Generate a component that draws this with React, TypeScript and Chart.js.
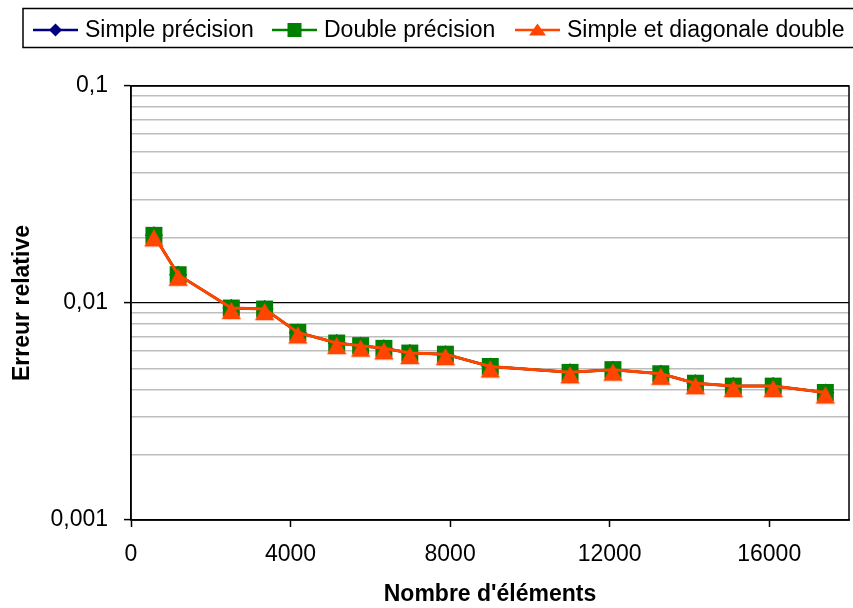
import React, { useEffect, useRef } from 'react';
import { Chart, registerables } from 'chart.js';

Chart.register(...registerables);

// ---- data ----
const nbElements = [575, 1182, 2515, 3350, 4182, 5157, 5757, 6340, 6990, 7882, 9007, 11007, 12082, 13282, 14150, 15100, 16100, 17407];
const errSimple = [0.0205, 0.0135, 0.00948, 0.00938, 0.00732, 0.00654, 0.00636, 0.00618, 0.00588, 0.00581, 0.0051, 0.00479, 0.00493, 0.00472, 0.00427, 0.00414, 0.00414, 0.00387];
const errDouble = [0.0205, 0.0135, 0.00948, 0.00938, 0.00732, 0.00654, 0.00636, 0.00618, 0.00588, 0.00581, 0.0051, 0.00479, 0.00493, 0.00472, 0.00427, 0.00414, 0.00414, 0.00387];
const errMixed = [0.0205, 0.0135, 0.00948, 0.00938, 0.00732, 0.00654, 0.00636, 0.00618, 0.00588, 0.00581, 0.0051, 0.00479, 0.00493, 0.00472, 0.00427, 0.00414, 0.00414, 0.00387];
const seriesNames = ['Simple précision', 'Double précision', 'Simple et diagonale double'];
const seriesColors = ['#000080', '#008000', '#FF4500'];
const xTickValues = [0, 4000, 8000, 12000, 16000];
const yMajorValues = [0.001, 0.01, 0.1];
const yTickLabels = ['0,001', '0,01', '0,1'];
const xTitle = "Nombre d'éléments";
const yTitle = 'Erreur relative';

const FONT = '"Liberation Sans", Arial, sans-serif';

function isMajor(v: number) {
  const l = Math.log10(v);
  return Math.abs(l - Math.round(l)) < 1e-9;
}

function makeTriangle(color: string) {
  const c = document.createElement('canvas');
  c.width = 24;
  c.height = 34;
  const g = c.getContext('2d')!;
  g.fillStyle = color;
  const cx = 12;
  const cy = 17 + 2.5;
  const w = 19.5;
  const h = 17.5;
  g.beginPath();
  g.moveTo(cx, cy - h / 2);
  g.lineTo(cx + w / 2, cy + h / 2);
  g.lineTo(cx - w / 2, cy + h / 2);
  g.closePath();
  g.fill();
  return c;
}

const legendX = [33, 272, 515];

const framePlugin = {
  id: 'frameAndLegend',
  beforeDatasetsDraw(chart: any) {
    const { ctx, chartArea } = chart;
    ctx.save();
    ctx.strokeStyle = '#000';
    ctx.lineWidth = 1.5;
    ctx.strokeRect(chartArea.left, chartArea.top, chartArea.right - chartArea.left, chartArea.bottom - chartArea.top);
    ctx.restore();
  },
  afterDraw(chart: any) {
    const ctx = chart.ctx;
    ctx.save();
    ctx.strokeStyle = '#000';
    ctx.lineWidth = 1.5;
    ctx.strokeRect(23, 8.5, 840, 39);
    const y = 30;
    seriesNames.forEach((name, i) => {
      const x0 = legendX[i];
      const col = seriesColors[i];
      ctx.strokeStyle = col;
      ctx.lineWidth = 2.5;
      ctx.beginPath();
      ctx.moveTo(x0, y);
      ctx.lineTo(x0 + 45, y);
      ctx.stroke();
      const mx = x0 + 22.5;
      ctx.fillStyle = col;
      ctx.beginPath();
      if (i === 0) {
        ctx.moveTo(mx, y - 6.5);
        ctx.lineTo(mx + 6.5, y);
        ctx.lineTo(mx, y + 6.5);
        ctx.lineTo(mx - 6.5, y);
      } else if (i === 1) {
        ctx.rect(mx - 7, y - 7, 14, 14);
      } else {
        ctx.moveTo(mx, y - 6.5);
        ctx.lineTo(mx + 8.5, y + 5.5);
        ctx.lineTo(mx - 8.5, y + 5.5);
      }
      ctx.closePath();
      ctx.fill();
      ctx.fillStyle = '#000';
      ctx.font = '23px ' + FONT;
      ctx.textBaseline = 'middle';
      ctx.textAlign = 'left';
      ctx.fillText(name, x0 + 52, y + 1);
    });
    ctx.restore();
  },
};

export default function App() {
  const ref = useRef<HTMLCanvasElement>(null);

  useEffect(() => {
    document.body.style.margin = '0';
    const tri = makeTriangle(seriesColors[2]);
    const toPts = (ys: number[]) => nbElements.map((x, i) => ({ x, y: ys[i] }));

    const yTickList: number[] = [];
    for (let k = -3; k <= -2; k++) {
      for (let m = 1; m <= 9; m++) yTickList.push(Number((m * Math.pow(10, k)).toPrecision(6)));
    }
    yTickList.push(0.1);

    const chart = new Chart(ref.current!, {
      type: 'line',
      data: {
        datasets: [
          {
            label: seriesNames[0],
            data: toPts(errSimple),
            borderColor: seriesColors[0],
            backgroundColor: seriesColors[0],
            borderWidth: 2.5,
            pointStyle: 'rectRot',
            pointRadius: 9,
            pointBorderWidth: 0,
            order: 3,
          },
          {
            label: seriesNames[1],
            data: toPts(errDouble),
            borderColor: seriesColors[1],
            backgroundColor: seriesColors[1],
            borderWidth: 2.5,
            pointStyle: 'rect',
            pointRadius: 12,
            pointBorderWidth: 0,
            order: 2,
          },
          {
            label: seriesNames[2],
            data: toPts(errMixed),
            borderColor: seriesColors[2],
            backgroundColor: seriesColors[2],
            borderWidth: 3,
            pointStyle: tri as any,
            pointRadius: 11,
            order: 1,
          },
        ],
      },
      options: {
        responsive: false,
        animation: false,
        events: [],
        layout: { autoPadding: false, padding: { top: 86, right: 4, bottom: 0, left: 0 } },
        plugins: {
          legend: { display: false },
          tooltip: { enabled: false },
        },
        scales: {
          x: {
            type: 'linear',
            min: 0,
            max: 18000,
            afterBuildTicks: (scale: any) => {
              scale.ticks = xTickValues.map((v) => ({ value: v }));
            },
            afterFit: (scale: any) => {
              scale.height = 88;
              scale.paddingRight = 0;
              scale.paddingLeft = 0;
            },
            grid: {
              drawOnChartArea: false,
              drawTicks: true,
              tickLength: 7,
              tickColor: '#000',
              tickWidth: 1.5,
            },
            border: { color: '#000', width: 1.5 },
            ticks: {
              autoSkip: false,
              maxRotation: 0,
              padding: 14,
              color: '#000',
              font: { family: FONT, size: 23 },
              callback: (v: any) => String(v),
            },
            title: {
              display: true,
              text: xTitle,
              color: '#000',
              font: { family: FONT, size: 23, weight: 'bold' },
              padding: { top: 0, bottom: 0 },
            },
          },
          y: {
            type: 'logarithmic',
            min: 0.001,
            max: 0.1,
            afterBuildTicks: (scale: any) => {
              scale.ticks = yTickList.map((v) => ({ value: v, major: isMajor(v) }));
            },
            afterFit: (scale: any) => {
              scale.width = 131;
              scale.paddingTop = 0;
              scale.paddingBottom = 0;
            },
            grid: {
              drawTicks: true,
              tickLength: 7,
              color: (c: any) => (c.tick && isMajor(c.tick.value) ? '#000' : '#bdbdbd'),
              lineWidth: (c: any) => (c.tick && isMajor(c.tick.value) ? 1.2 : 1.5),
              tickColor: (c: any) => (c.tick && isMajor(c.tick.value) ? '#000' : 'rgba(0,0,0,0)'),
              tickWidth: 1.5,
            },
            border: { color: '#000', width: 1.5 },
            ticks: {
              autoSkip: false,
              padding: 16,
              color: '#000',
              font: { family: FONT, size: 23 },
              callback: (v: any) => {
                const idx = yMajorValues.findIndex((m) => Math.abs(m - Number(v)) < 1e-12);
                return idx >= 0 ? yTickLabels[idx] : '';
              },
            },
            title: {
              display: true,
              text: yTitle,
              color: '#000',
              font: { family: FONT, size: 23, weight: 'bold' },
              padding: { top: 9, bottom: 0 },
            },
          },
        },
      },
      plugins: [framePlugin],
    } as any);
    return () => chart.destroy();
  }, []);

  return (
    <div style={{ width: 853, height: 608 }}>
      <canvas ref={ref} width={853} height={608} style={{ width: 853, height: 608, display: 'block' }} />
    </div>
  );
}
